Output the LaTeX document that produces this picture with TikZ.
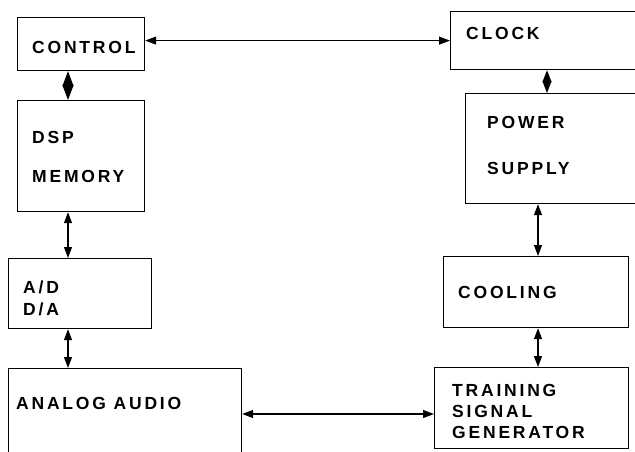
\documentclass[tikz,border=0pt]{standalone}
\usepackage{fontspec}
\newfontfamily\blockfont[LetterSpace=16]{Liberation Sans Bold}
\usepackage{tikz}
\usetikzlibrary{arrows.meta,positioning}
\tikzset{
  blk/.style={draw, line width=1.2pt, anchor=north west, inner sep=0pt},
  lbl/.style={inner sep=0pt, align=left, font=\blockfont\fontsize{17.5}{21}\selectfont},
  dblarrow/.style={{Triangle[length=11pt,width=8pt]}-{Triangle[length=11pt,width=8pt]}, line width=1.1pt},
  joint/.style={{Triangle[length=15pt,width=11pt]}-{Triangle[length=15pt,width=11pt]}, line width=1.1pt},
  smalljoint/.style={{Triangle[length=12pt,width=9pt]}-{Triangle[length=12pt,width=9pt]}, line width=1.1pt}
}

\begin{document}
\begin{tikzpicture}[x=1pt, y=-1pt]
  \useasboundingbox (0,0) rectangle (635,452);
  % left column
  \node[blk, minimum width=127pt, minimum height=53pt] (control) at (17,17) {};
  \node[blk, minimum width=127pt, minimum height=111pt] (dsp) at (17,100) {};
  \node[blk, minimum width=143pt, minimum height=70pt] (adda) at (8,258) {};
  \node[blk, minimum width=233pt, minimum height=100pt] (analog) at (8,368) {};
  % right column
  \node[blk, minimum width=195pt, minimum height=58pt] (clock) at (450,11) {};
  \node[blk, minimum width=180pt, minimum height=110pt] (power) at (465,93) {};
  \node[blk, minimum width=185pt, minimum height=71pt] (cooling) at (443,256) {};
  \node[blk, minimum width=194pt, minimum height=81pt] (training) at (434,367) {};

  \node[lbl, right=15pt of control.west, yshift=-3.5pt] (controltxt) {CONTROL};
  \node[lbl, right=15pt of dsp.west, yshift=-1pt] (dsptxt) {DSP\\[18pt]MEMORY};
  \node[lbl, right=15pt of adda.west, yshift=-5pt] (addatxt) {A/D\\[1pt]D/A};
  \node[lbl, anchor=west] (analogtxt) at ([shift={(8,35)}]analog.north west) {ANALOG AUDIO};
  \node[lbl, right=16pt of clock.west, yshift=7pt] (clocktxt) {CLOCK};
  \node[lbl, right=22pt of power.west, yshift=3pt] (powertxt) {POWER\\[25pt]SUPPLY};
  \node[lbl, right=15pt of cooling.west] (coolingtxt) {COOLING};
  \node[lbl, right=18pt of training.west, yshift=-3.5pt] (trainingtxt) {TRAINING\\SIGNAL\\GENERATOR};

  % connectors
  \coordinate (lx) at (68,0);
  \coordinate (rx) at (538,0);
  \coordinate (ay) at (0,414);
  \draw[dblarrow] (control.east |- clock.west) -- (clock.west);
  \draw[dblarrow] (analog.east |- ay) -- (training.west |- ay);
  \draw[joint] (control.south -| lx) -- (dsp.north -| lx);
  \draw[smalljoint] (clock.south -| 547,0) -- (power.north -| 547,0);
  \foreach \a/\b in {dsp/adda,adda/analog}
    \draw[dblarrow] (\a.south -| lx) -- (\b.north -| lx);
  \foreach \a/\b in {power/cooling,cooling/training}
    \draw[dblarrow] (\a.south -| rx) -- (\b.north -| rx);
\end{tikzpicture}
\end{document}
